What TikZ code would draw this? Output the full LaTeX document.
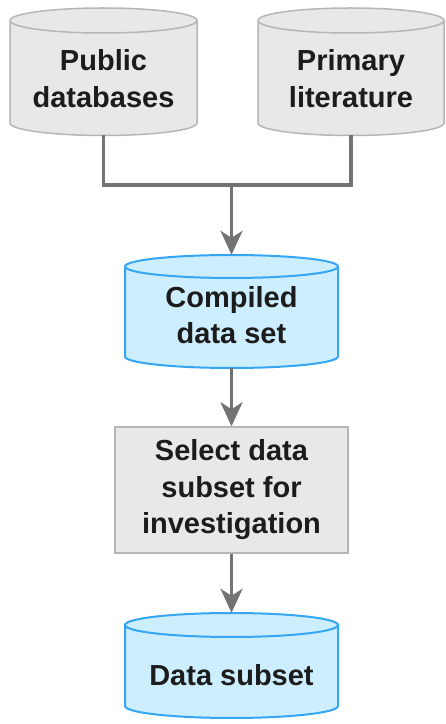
\documentclass[tikz,border=0pt]{standalone}
\usepackage{fontspec}
\setmainfont{Liberation Sans}
\usetikzlibrary{arrows.meta}
\definecolor{grayfill}{HTML}{E8E8E8}
\definecolor{grayline}{HTML}{B6B6B6}
\definecolor{bluefill}{HTML}{CDEEFF}
\definecolor{blueline}{HTML}{34A6F4}
\definecolor{conncol}{HTML}{737373}
\definecolor{txtcol}{HTML}{1C1C1C}
% #1 cx, #2 top-ellipse centre y, #3 bottom-ellipse centre y, #4 rx, #5 ry, #6 style
\newcommand\cylbody[6]{%
  \draw[#6] (#1-#4,#2) -- (#1-#4,#3)
    arc[start angle=180,end angle=360,x radius=#4,y radius=#5]
    -- (#1+#4,#2)
    arc[start angle=0,end angle=180,x radius=#4,y radius=#5] -- cycle;
  \draw[#6,fill=none] (#1-#4,#2)
    arc[start angle=180,end angle=360,x radius=#4,y radius=#5];
}
\tikzset{
  graycyl/.style={fill=grayfill,draw=grayline,line width=1.5pt},
  bluecyl/.style={fill=bluefill,draw=blueline,line width=2pt},
  txt/.style={font=\bfseries\fontsize{29}{36.5}\selectfont,text=txtcol,align=center,inner sep=0pt},
  hull/.style={draw=none,fill=none,inner sep=0pt,rectangle},
  conn/.style={draw=conncol,line width=3.5pt},
  arr/.style={conn,-{Stealth[length=24pt,width=22pt,inset=7pt]}},
  selbox/.style={rectangle,fill=grayfill,draw=grayline,line width=1.5pt,minimum width=233pt,minimum height=126pt,inner sep=0pt}
}
\begin{document}
\begin{tikzpicture}[x=1pt,y=1pt]
\useasboundingbox (0,0) rectangle (446,724);
% cylinders
\cylbody{103.5}{703.5}{601}{93.5}{12.5}{graycyl}
\cylbody{351}{703.5}{601}{93}{12.5}{graycyl}
\cylbody{231.5}{457.5}{367.5}{106.5}{11.5}{bluecyl}
\cylbody{231.5}{99}{18}{106.5}{12}{bluecyl}
% hull nodes
\node[hull,minimum width=187pt,minimum height=127pt] (pub) at (103.5,652.25) {};
\node[hull,minimum width=186pt,minimum height=127pt] (prim) at (351,652.25) {};
\node[hull,minimum width=213pt,minimum height=113pt] (comp) at (231.5,412.5) {};
\node[selbox] (sel) at (231.5,234) {};
\node[hull,minimum width=213pt,minimum height=105pt] (sub) at (231.5,58.5) {};
% texts
\node[txt] (pubt) at (103.5,645.5) {Public\\databases};
\node[txt] (primt) at (351,645.5) {Primary\\literature};
\node[txt] (compt) at (231.5,409) {Compiled\\data set};
\node[txt] (selt) at (231.5,234) {Select data\\subset for\\investigation};
\node[txt] (subt) at (231.5,49) {Data subset};
% connectors
\coordinate (j) at (231.5,539);
\draw[conn] (pub.south) |- (j) -| (prim.south);
\draw[arr] (j) -- (comp.north);
\draw[arr] (comp.south) -- (sel.north);
\draw[arr] (sel.south) -- (sub.north);
\end{tikzpicture}
\end{document}
